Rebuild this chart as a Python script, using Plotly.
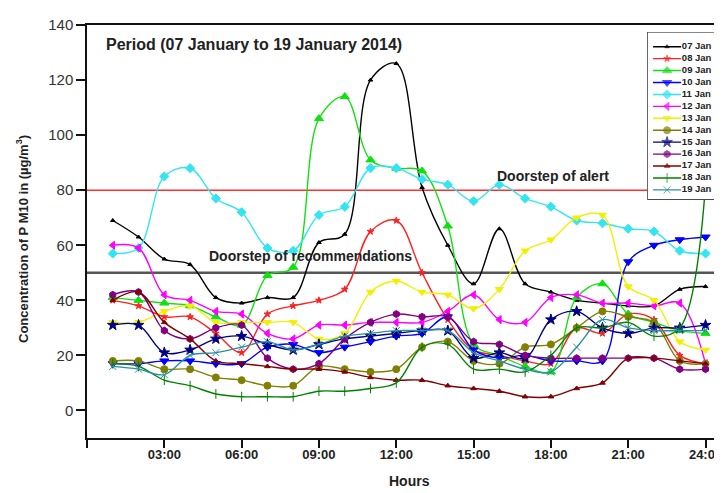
import plotly.graph_objects as go

hours = list(range(1, 25))
tick_hours = [0, 3, 6, 9, 12, 15, 18, 21, 24]
tick_text = ['', '03:00', '06:00', '09:00', '12:00', '15:00', '18:00', '21:00', '24:00']
y_ticks = [0, 20, 40, 60, 80, 100, 120, 140]

days = ['07 Jan', '08 Jan', '09 Jan', '10 Jan', '11 Jan', '12 Jan', '13 Jan',
        '14 Jan', '15 Jan', '16 Jan', '17 Jan', '18 Jan', '19 Jan']

jan07 = [69, 63, 55, 53, 41, 39, 41, 41, 61, 64, 120, 126, 81, 60, 46, 66, 46, 43, 40, 39, 38, 38, 44, 45]
jan08 = [40, 38, 34, 34, 28, 21, 35, 38, 40, 44, 65, 69, 50, 33, 22, 20, 18, 17, 30, 28, 35, 33, 20, 17]
jan09 = [41, 40, 39, 38, 34, 31, 49, 52, 106, 114, 91, 88, 87, 67, 24, 20, 16, 14, 41, 46, 35, 32, 29, 28]
jan10 = [17, 17, 18, 18, 17, 17, 23, 24, 21, 23, 25, 27, 28, 34, 22, 19, 20, 18, 18, 18, 54, 60, 62, 63]
jan11 = [57, 59, 85, 88, 77, 72, 59, 58, 71, 74, 88, 88, 84, 82, 76, 82, 77, 74, 69, 68, 66, 65, 58, 57]
jan12 = [60, 59, 42, 40, 36, 35, 28, 26, 31, 31, 32, 32, 32, 36, 42, 33, 32, 41, 42, 39, 39, 38, 39, 17]
jan13 = [32, 32, 36, 38, 32, 32, 32, 32, 26, 28, 43, 47, 43, 42, 37, 44, 58, 62, 70, 71, 45, 40, 25, 22]
jan14 = [18, 18, 15, 15, 12, 11, 9, 9, 16, 15, 14, 15, 23, 25, 18, 17, 23, 24, 30, 36, 34, 32, 18, 17]
jan15 = [31, 31, 21, 22, 26, 27, 24, 22, 24, 26, 27, 28, 29, 29, 19, 21, 19, 33, 36, 30, 28, 30, 30, 31]
jan16 = [42, 43, 29, 26, 30, 31, 19, 15, 17, 26, 32, 35, 34, 34, 25, 24, 20, 19, 19, 19, 19, 19, 15, 15]
jan17 = [40, 43, 32, 26, 18, 17, 16, 15, 15, 14, 12, 11, 11, 9, 8, 7, 5, 5, 8, 10, 19, 19, 18, 17]
jan18 = [17, 16, 11, 9, 6, 5, 5, 5, 7, 7, 8, 10, 23, 24, 15, 15, 14, 20, 30, 30, 32, 27, 30, 82]
jan19 = [16, 15, 13, 20, 21, 23, 25, 22, 24, 27, 28, 29, 29, 29, 21, 18, 15, 14, 23, 33, 30, 29, 29, 29]

alert_level = 80
recommend_level = 50

series = [jan07, jan08, jan09, jan10, jan11, jan12, jan13,
          jan14, jan15, jan16, jan17, jan18, jan19]
colors = ['#000000', '#ff2020', '#10e010', '#0000ff', '#33e5f0', '#ff00ff', '#f0f000',
          '#808000', '#000080', '#800080', '#800000', '#008000', '#2b8fa0']
symbols = ['triangle-up', 'star', 'triangle-up', 'triangle-down', 'diamond', 'triangle-left',
           'triangle-down', 'circle', 'star', 'hexagon', 'triangle-up', 'line-ns-open', 'x-thin-open']
sizes = [4, 5, 8, 8, 7, 7, 7, 7, 8, 7, 5, 7, 7]

fig = go.Figure()

for name, vals, c, s, sz in zip(days, series, colors, symbols, sizes):
    fig.add_trace(go.Scatter(
        x=hours, y=vals, name=name, mode='lines+markers',
        line=dict(color=c, width=1.4, shape='spline', smoothing=1.0),
        marker=dict(color=c, symbol=s, size=sz, line=dict(color=c, width=1)),
        showlegend=False))

# threshold lines
fig.add_hline(y=alert_level, line=dict(color='#ff3030', width=1.5), layer='below')
fig.add_hline(y=recommend_level, line=dict(color='#555555', width=2.5), layer='below')

# compact legend drawn on its own small axis pair (white box first so it hides the lines)
n = len(days)
fig.add_trace(go.Scatter(
    x=[0, 1.2, 1.2, 0, 0], y=[-1.23, -1.23, n - 0.18, n - 0.18, -1.23],
    mode='lines', fill='toself', fillcolor='white',
    line=dict(color='#111111', width=1.2),
    xaxis='x2', yaxis='y2', showlegend=False, hoverinfo='skip'))
for i, (name, c, s, sz) in enumerate(zip(days, colors, symbols, sizes)):
    fig.add_trace(go.Scatter(
        x=[0.08, 0.27, 0.46], y=[i, i, i], mode='lines+markers',
        line=dict(color=c, width=1.4),
        marker=dict(color=c, symbol=s, size=[0, sz, 0], line=dict(color=c, width=1)),
        xaxis='x2', yaxis='y2', showlegend=False, hoverinfo='skip'))
fig.add_trace(go.Scatter(
    x=[0.47] * n, y=list(range(n)), text=[f'<b>{d}</b>' for d in days], mode='text',
    textposition='middle right',
    textfont=dict(family='Arial', size=9.5, color='#222222'),
    xaxis='x2', yaxis='y2', showlegend=False, hoverinfo='skip', cliponaxis=False))

axis_font = dict(family='Arial', color='#222222')

# the page body adds an 8px offset, so margins are shifted up-left by 8px
fig.update_layout(
    width=722, height=493,
    margin=dict(l=79, r=8, t=9, b=63),
    plot_bgcolor='white', paper_bgcolor='white',
    font=dict(family='Arial', color='#222222'),
    xaxis=dict(range=[0, 24.6], tickvals=tick_hours, ticktext=[f'<b>{t}</b>' for t in tick_text],
               ticks='outside', ticklen=8, tickwidth=1.5, tickcolor='#111111',
               showline=True, linecolor='#111111', linewidth=1.5, mirror=True,
               showgrid=False, zeroline=False, ticklabelstandoff=-4,
               tickfont=dict(size=13, **axis_font)),
    yaxis=dict(range=[-10, 140], tickvals=y_ticks,
               ticks='outside', ticklen=9, tickwidth=1.5, tickcolor='#111111',
               showline=True, linecolor='#111111', linewidth=1.5,
               showgrid=False, zeroline=False, tickfont=dict(size=15, color='#333333', family='Arial')),
    xaxis2=dict(domain=[0.8835, 1.0], range=[0, 1], visible=False, anchor='y2'),
    yaxis2=dict(domain=[0.577, 0.983], range=[12.82, -1.23], visible=False, anchor='x2'),
    annotations=[
        dict(text='<b>Period (07 January to 19 January 2014)</b>', x=0.67, y=133,
             xref='x', yref='y', xanchor='left', yanchor='middle', showarrow=False,
             font=dict(size=16, **axis_font)),
        dict(text='<b>Doorstep of alert</b>', x=18.08, y=85, xref='x', yref='y',
             showarrow=False, font=dict(size=14, **axis_font)),
        dict(text='<b>Doorstep of recommendations</b>', x=8.68, y=56, xref='x', yref='y',
             showarrow=False, font=dict(size=14, **axis_font)),
        dict(text='<b>Concentration of P M10 in (µg/m<sup>3</sup>)</b>', x=-0.1024, y=0.482,
             xref='paper', yref='paper', xanchor='center', yanchor='middle',
             textangle=-90, showarrow=False, font=dict(size=13, **axis_font)),
        dict(text='<b>Hours</b>', x=0.5087, y=-0.1045, xref='paper', yref='paper',
             xanchor='center', yanchor='middle', showarrow=False, font=dict(size=14, **axis_font)),
    ],
)

fig.write_html('out.html')
